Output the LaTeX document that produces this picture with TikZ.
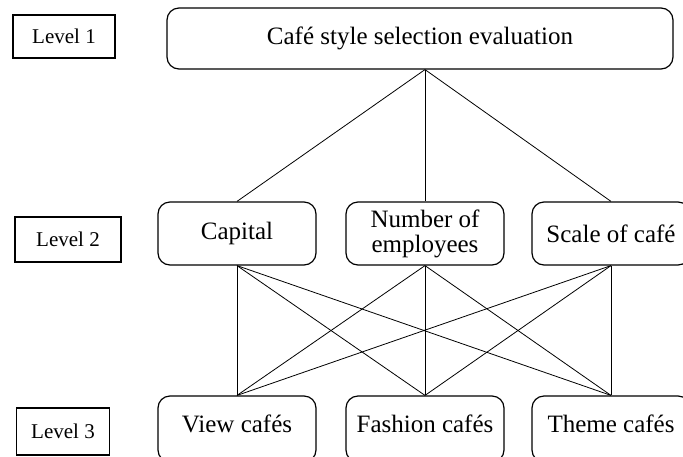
\documentclass[tikz,border=0pt]{standalone}
\usepackage{fontspec}
\setmainfont{Liberation Serif}

\begin{document}
\begin{tikzpicture}[x=1pt,y=-1pt]
\tikzset{every node/.style={font=\fontsize{25}{25}\selectfont, align=center, inner sep=0pt},
  levelbox/.style={draw, line width=1.2pt, font=\fontsize{21}{22}\selectfont},
  critbox/.style={draw, line width=1.2pt, rounded corners=12pt, minimum width=158, minimum height=63},
  link/.style={line width=0.8pt}}

\useasboundingbox (0,0) rectangle (683,456);

% Nodes for levels
\node[levelbox, minimum width=102, minimum height=43] at (64, 36.5) (lvA) {Level 1};
\node[levelbox, minimum width=106, minimum height=45] at (68, 239.5) (lvB) {Level 2};
\node[levelbox, minimum width=93, minimum height=47] at (63, 431.5) (lvC) {Level 3};

% Node for goal
\node[critbox, minimum width=506, minimum height=61] at (420, 38.5) (goal) {Café style selection evaluation};

% Nodes for criteria
\node[critbox] at (237, 233.5) (cap) {Capital};
\node[critbox] at (425, 233.5) (num) {Number of\\employees};
\node[critbox] at (611, 233.5) (scl) {Scale of café};

% Nodes for alternatives
\node[critbox, minimum height=66, text depth=10pt] at (237, 429) (view) {View cafés};
\node[critbox, minimum height=66, text depth=10pt] at (425, 429) (fash) {Fashion cafés};
\node[critbox, minimum height=66, text depth=10pt] at (611, 429) (theme) {Theme cafés};

\coordinate (hub) at (goal.south -| num.north);

% Lines from goal
\draw[link] (hub) -- (cap.north);
\draw[link] (hub) -- (num.north);
\draw[link] (hub) -- (scl.north);

% Lines for Capital
\draw[link] (cap.south) -- (view.north);
\draw[link] (cap.south) -- (fash.north);
\draw[link] (cap.south) -- (theme.north);

% Lines for Number of employees
\draw[link] (num.south) -- (view.north);
\draw[link] (num.south) -- (fash.north);
\draw[link] (num.south) -- (theme.north);

% Lines for Scale of cafe
\draw[link] (scl.south) -- (view.north);
\draw[link] (scl.south) -- (fash.north);
\draw[link] (scl.south) -- (theme.north);
\end{tikzpicture}
\end{document}
